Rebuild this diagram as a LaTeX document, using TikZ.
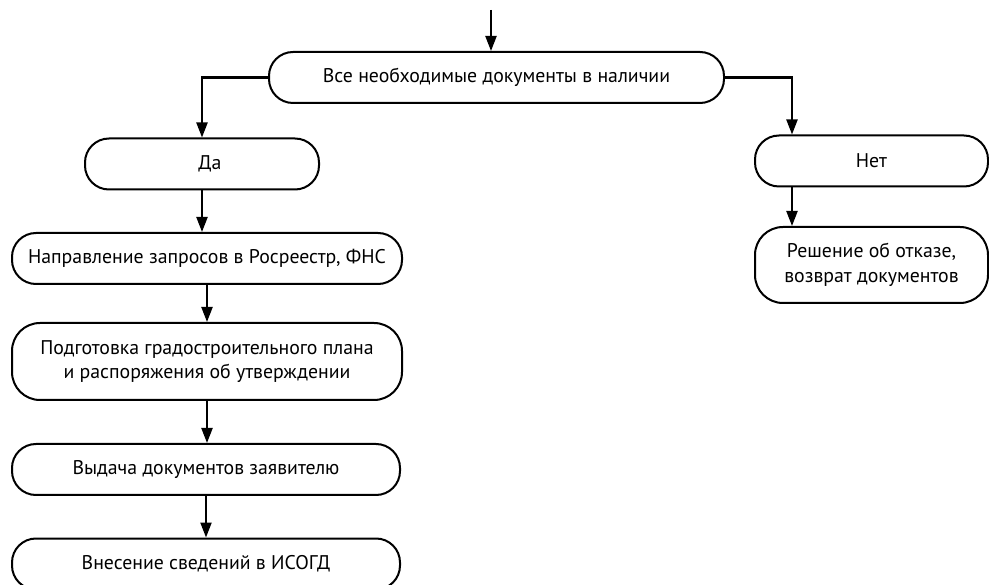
\documentclass[tikz,border=0pt]{standalone}
\usepackage{fontspec}
\setmainfont{PT Sans}
\usetikzlibrary{arrows.meta, positioning, calc}

\begin{document}
\begin{tikzpicture}[
    x=1pt, y=-1pt,
    stage/.style={rectangle, draw, line width=2pt, rounded corners=24pt, align=center, inner sep=0pt,
                  font=\fontsize{19.8}{24.5}\selectfont, minimum height=51pt},
    flow/.style={-{Triangle[width=11pt,length=15pt]}, line width=2.2pt}
]
    \useasboundingbox (0,0) rectangle (989,585);

    % QUESTION
    \coordinate (Entry) at (491,10);
    \node (Check) [stage, minimum width=455pt] at (496.5,77.5) {Все необходимые документы в наличии};
    \draw[flow] (Entry) -- (Entry |- Check.north);

    % LEFT: YES
    \node (Yes) [stage, minimum width=234pt] at (202,164) {\hspace*{16pt}Да};
    \node (Request) [stage, minimum width=390pt] at (207,258.5) {Направление запросов в Росреестр, ФНС};
    \node (Prepare) [stage, minimum width=390pt, minimum height=77pt, rounded corners=28pt] at (207,361.5) {Подготовка градостроительного плана\\и распоряжения об утверждении};
    \node (Issue) [stage, minimum width=388pt] at (206,469.5) {Выдача документов заявителю};
    \node (Record) [stage, minimum width=388pt] at (206,564) {Внесение сведений в ИСОГД};

    \draw[flow] (Check.west) -| (Yes.north);
    \draw[flow] (Yes.south) -- (Yes.south |- Request.north);
    \draw[flow] (Request.south) -- (Request.south |- Prepare.north);
    \draw[flow] (Prepare.south) -- (Prepare.south |- Issue.north);
    \draw[flow] (Issue.south) -- (Record.north);

    % RIGHT: NO
    \node (No) [stage, minimum width=233pt] at (871.5,161) {Нет};
    \node (Refuse) [stage, minimum width=233pt, minimum height=76pt, rounded corners=28pt] at (871.5,265) {Решение об отказе,\\возврат документов};

    \draw[flow] (Check.east) -| ([xshift=38pt]No.north west);
    \draw[flow] ([xshift=38pt]No.south west) -- ([xshift=38pt]Refuse.north west);
\end{tikzpicture}
\end{document}
